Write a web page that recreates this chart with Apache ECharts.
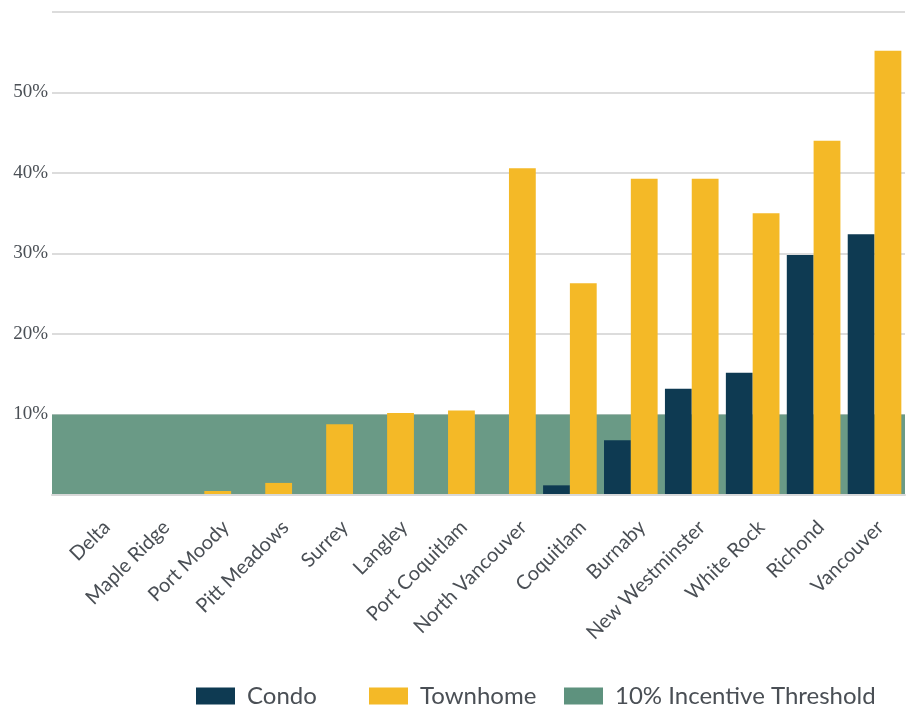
<!DOCTYPE html>
<html><head><meta charset="utf-8">
<script src="https://cdn.jsdelivr.net/npm/echarts@6/dist/echarts.min.js"></script>
<style>html,body{margin:0;padding:0;background:#fff}#c{width:911px;height:707px}</style>
</head><body><div id="c"></div>
<script>
const categories = ["Delta","Maple Ridge","Port Moody","Pitt Meadows","Surrey","Langley","Port Coquitlam","North Vancouver","Coquitlam","Burnaby","New Westminster","White Rock","Richond","Vancouver"];
const condo = [0,0,0,0,0,0,0,0,1.2,6.8,13.2,15.2,29.8,32.4];
const townhome = [0,0,0.5,1.5,8.8,10.2,10.5,40.6,26.3,39.3,39.3,35.0,44.0,55.2];
const threshold = 10;
const yTicks = [10,20,30,40,50];
const seriesNames = ['Condo','Townhome','10% Incentive Threshold'];

const chart = echarts.init(document.getElementById('c'));
const textColor = '#4a4f55';
const legendBase = {
  top: 684, padding: 0, itemWidth: 39, itemHeight: 17,
  textStyle: {fontFamily: 'Lato', fontSize: 24, lineHeight: 24, color: textColor, padding: [0,0,0,7]}
};
chart.setOption({
  animation: false,
  grid: [
    {left: 52, right: 6, top: 12, bottom: 212},
    {left: 77, right: 1, top: 12, bottom: 212}
  ],
  legend: [
    Object.assign({left: 196, data: [{name: seriesNames[0], icon: 'rect'}]}, legendBase),
    Object.assign({left: 369, data: [{name: seriesNames[1], icon: 'rect'}]}, legendBase),
    Object.assign({left: 564, data: [{name: seriesNames[2], icon: 'rect'}]}, legendBase)
  ],
  xAxis: [{
    type: 'category', data: categories, gridIndex: 0, z: 5,
    axisTick: {show: false},
    axisLine: {lineStyle: {color: '#d8d8d8', width: 2}},
    axisLabel: {show: false}
  }, {
    type: 'category', data: categories, gridIndex: 1,
    axisTick: {show: false}, axisLine: {show: false},
    axisLabel: {rotate: 45, interval: 0, margin: 29, fontFamily: 'Lato', fontSize: 20, color: textColor}
  }],
  yAxis: [{
    type: 'value', min: 0, max: 60, interval: 10, gridIndex: 0,
    axisLine: {show: false}, axisTick: {show: false},
    splitLine: {lineStyle: {color: '#dcdcdc', width: 2}},
    axisLabel: {
      margin: 4, fontFamily: 'Liberation Serif', fontSize: 19, color: textColor,
      formatter: v => yTicks.includes(v) ? v + '%' : ''
    }
  }, {
    type: 'value', min: 0, max: 60, gridIndex: 1, show: false
  }],
  series: [
    {name: seriesNames[0], type: 'bar', data: condo, barGap: '0%', barCategoryGap: '12%', z: 3,
     itemStyle: {color: '#0e3a52'}},
    {name: seriesNames[1], type: 'bar', data: townhome, z: 3,
     itemStyle: {color: '#f4b927'}},
    {name: seriesNames[2], type: 'line', data: [], z: 1,
     itemStyle: {color: '#5e927e'}, lineStyle: {color: '#5e927e'},
     markArea: {silent: true, itemStyle: {color: '#6a9a86', opacity: 1},
       data: [[{yAxis: 0}, {yAxis: threshold}]]}}
  ]
});
</script></body></html>
